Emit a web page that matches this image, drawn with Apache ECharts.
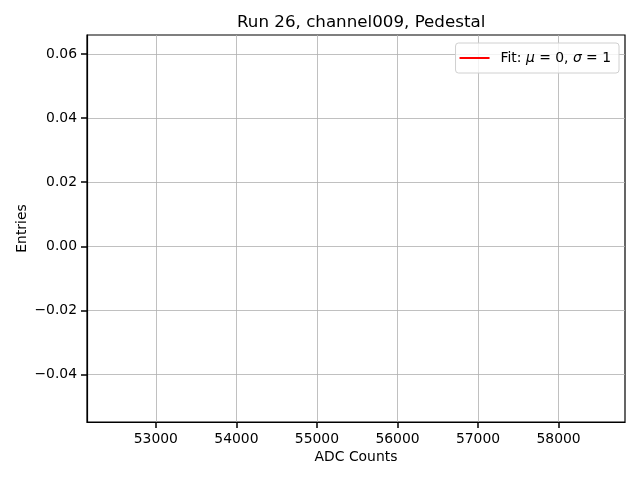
<!DOCTYPE html>
<html>
<head>
<meta charset="utf-8">
<script src="https://cdn.jsdelivr.net/npm/echarts@6/dist/echarts.min.js"></script>
<style>
  html, body { margin: 0; padding: 0; background: #fff; }
  #main { width: 640px; height: 480px; }
</style>
</head>
<body>
<div id="main"></div>
<script>
// the fit curve has no points in this run, only its legend entry shows
var fitName = 'Fit';
var fitMu = 0;
var fitSigma = 1;
var fitPoints = [];

var xTicks = [53000, 54000, 55000, 56000, 57000, 58000];
var yTicks = [-0.04, -0.02, 0.00, 0.02, 0.04, 0.06];
var xRange = [52145, 58825];
var yRange = [-0.0549, 0.0660];

var font = 'DejaVu Sans';

var chart = echarts.init(document.getElementById('main'));
chart.setOption({
    animation: false,
    backgroundColor: '#fff',
    title: {
        text: 'Run 26, channel009, Pedestal',
        left: 232,
        top: 9,
        textStyle: { fontFamily: font, fontSize: 16.7, fontWeight: 'normal', color: '#000' }
    },
    grid: {
        left: 87, right: 15, top: 35, bottom: 58,
        show: true, borderColor: '#000', borderWidth: 1.2, backgroundColor: 'transparent'
    },
    legend: {
        right: 21, top: 43,
        orient: 'vertical',
        padding: [8, 8, 8, 4],
        borderColor: '#d0d0d0', borderWidth: 1, borderRadius: 3,
        backgroundColor: 'rgba(255,255,255,0.8)',
        itemWidth: 30, itemHeight: 2, itemGap: 4,
        icon: 'rect',
        textStyle: {
            fontFamily: font, fontSize: 13.9, color: '#000', padding: [0, 0, 0, 6],
            rich: { i: { fontFamily: font, fontSize: 13.9, fontStyle: 'italic', color: '#000' } }
        },
        formatter: function(name) {
            return name + ': {i|μ} = ' + fitMu + ', {i|σ} = ' + fitSigma;
        },
        data: [fitName]
    },
    xAxis: {
        type: 'value',
        position: 'bottom',
        min: xRange[0], max: xRange[1],
        name: 'ADC Counts', nameLocation: 'middle', nameGap: 28, nameMoveOverlap: false,
        nameTextStyle: { fontFamily: font, fontSize: 13.9, color: '#000' },
        axisLine: { show: true, onZero: false, lineStyle: { color: '#000', width: 1.2 } },
        axisTick: { show: true, inside: false, length: 6, lineStyle: { color: '#000', width: 1.5 }, customValues: xTicks },
        axisLabel: {
            show: true, fontFamily: font, fontSize: 13.9, color: '#000', margin: 10, customValues: xTicks,
            formatter: function(v) { return String(v); }
        },
        splitLine: { show: true, lineStyle: { color: '#b0b0b0', width: 0.8 } }
    },
    yAxis: {
        type: 'value',
        position: 'left',
        min: yRange[0], max: yRange[1],
        name: 'Entries', nameLocation: 'middle', nameGap: 58, nameMoveOverlap: false,
        nameTextStyle: { fontFamily: font, fontSize: 13.9, color: '#000' },
        axisLine: { show: true, onZero: false, lineStyle: { color: '#000', width: 1.2 } },
        axisTick: { show: true, inside: false, length: 6, lineStyle: { color: '#000', width: 1.5 }, customValues: yTicks },
        axisLabel: {
            show: true, fontFamily: font, fontSize: 13.9, color: '#000', margin: 10, customValues: yTicks,
            formatter: function(v) { return v.toFixed(2).replace('-', '\u2212'); }
        },
        splitLine: { show: true, lineStyle: { color: '#b0b0b0', width: 0.8 } }
    },
    series: [{
        name: fitName,
        type: 'line',
        data: fitPoints,
        showSymbol: false,
        itemStyle: { color: '#ff0000' },
        lineStyle: { color: '#ff0000', width: 1.5 }
    }]
});
</script>
</body>
</html>
